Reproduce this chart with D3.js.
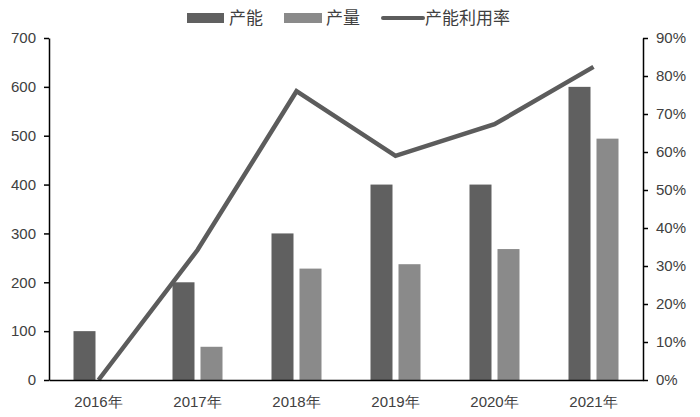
<!DOCTYPE html>
<html>
<head>
<meta charset="utf-8">
<script src="https://cdn.jsdelivr.net/npm/d3@7"></script>
<style>
html,body{margin:0;padding:0;background:#fff;}
svg{display:block;font-family:"Noto Sans CJK SC","Noto Sans",sans-serif;}
</style>
</head>
<body>
<svg id="chart" width="700" height="417"></svg>
<script>
const categories = ["2016年","2017年","2018年","2019年","2020年","2021年"];
const capacity = [100, 200, 300, 400, 400, 600];
const output = [0, 68, 228, 237, 268, 494];
const utilization = [0, 0.342, 0.76, 0.59, 0.673, 0.824];
const leftTicks = [0,100,200,300,400,500,600,700];
const rightTicks = [0,0.1,0.2,0.3,0.4,0.5,0.6,0.7,0.8,0.9];
const legendLabels = ["产能","产量","产能利用率"];

const colors = {cap:"#606060", out:"#8a8a8a", line:"#5c5c5c", text:"#404040"};

const svg = d3.select("#chart");
const x = d3.scaleBand().domain(categories).range([49, 643]);
const y = d3.scaleLinear().domain([0, 700]).range([380, 38]);
const y2 = d3.scaleLinear().domain([0, 0.9]).range([380, 38]);

const barW = 22, gap = 3;
const cx = d => x(d) + x.bandwidth()/2;

svg.append("g").selectAll("rect").data(categories).join("rect")
  .attr("x", d => cx(d) - gap - barW).attr("width", barW)
  .attr("y", (d,i) => y(capacity[i])).attr("height", (d,i) => y(0) - y(capacity[i]))
  .attr("fill", colors.cap);
svg.append("g").selectAll("rect").data(categories).join("rect")
  .attr("x", d => cx(d) + gap).attr("width", barW)
  .attr("y", (d,i) => y(output[i])).attr("height", (d,i) => y(0) - y(output[i]))
  .attr("fill", colors.out);

const line = d3.line().x((d,i) => cx(categories[i])).y(d => y2(d));
svg.append("path").datum(utilization).attr("d", line)
  .attr("fill","none").attr("stroke", colors.line).attr("stroke-width", 4.5)
  .attr("stroke-linejoin","miter");

// left axis
const gl = svg.append("g").attr("transform","translate(49,0)")
  .call(d3.axisLeft(y).tickValues(leftTicks).tickSize(5).tickSizeOuter(0).tickPadding(8));
// right axis
const gr = svg.append("g").attr("transform","translate(643,0)")
  .call(d3.axisRight(y2).tickValues(rightTicks).tickSize(5).tickSizeOuter(0).tickPadding(8).tickFormat(d3.format(".0%")));
[gl, gr].forEach(g => {
  g.selectAll(".domain").attr("stroke","#000").attr("stroke-width",1.5);
  g.selectAll(".tick line").attr("stroke","#000").attr("stroke-width",1.5);
  g.selectAll("text").attr("fill", colors.text).style("font-size","15px");
});

// x axis
const gx = svg.append("g").attr("transform","translate(0,380)")
  .call(d3.axisBottom(x).tickSize(0).tickSizeOuter(0).tickPadding(16));
gx.select(".domain").attr("stroke","#000").attr("stroke-width",1.5);
gx.selectAll("text").attr("fill", colors.text).style("font-size","15px");

// legend
const lg = svg.append("g");
lg.append("rect").attr("x",187).attr("y",13).attr("width",37).attr("height",10).attr("fill",colors.cap);
lg.append("text").attr("x",229).attr("y",24).text(legendLabels[0]);
lg.append("rect").attr("x",284).attr("y",13).attr("width",38).attr("height",10).attr("fill",colors.out);
lg.append("text").attr("x",326).attr("y",24).text(legendLabels[1]);
lg.append("line").attr("x1",383).attr("x2",423).attr("y1",18).attr("y2",18)
  .attr("stroke",colors.line).attr("stroke-width",4).attr("stroke-linecap","round");
lg.append("text").attr("x",425).attr("y",24).text(legendLabels[2]);
lg.selectAll("text").attr("fill",colors.text).style("font-size","17px");
</script>
</body>
</html>
